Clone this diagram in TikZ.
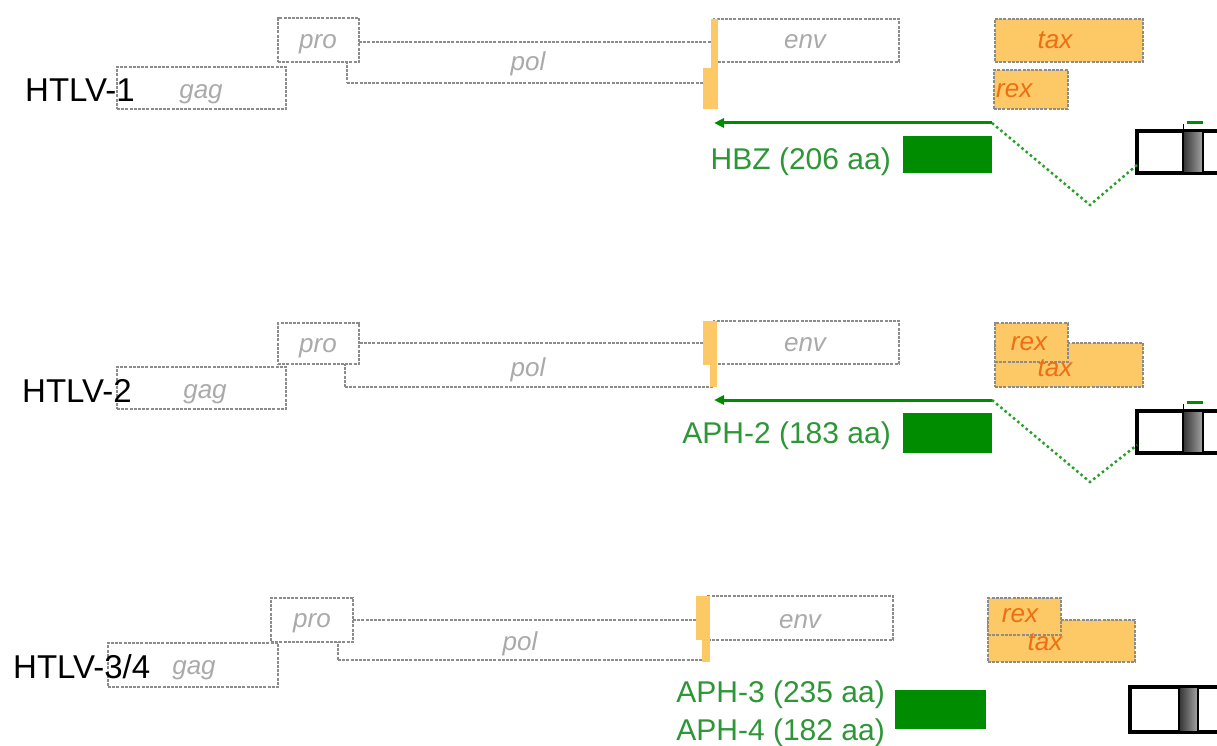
\documentclass[tikz,border=0pt]{standalone}
\usepackage{fontspec}
\setmainfont{Liberation Sans}
\usetikzlibrary{arrows.meta}
\definecolor{boxline}{RGB}{140,140,140}
\definecolor{lbl}{RGB}{170,170,170}
\definecolor{orfill}{RGB}{253,200,102}
\definecolor{ortext}{RGB}{238,110,20}
\definecolor{grn}{RGB}{0,140,0}
\definecolor{grntext}{RGB}{45,150,55}
\definecolor{spl}{RGB}{40,160,40}
\tikzset{
 gene/.style={draw=boxline, line width=1.3pt, dash pattern=on 3pt off 1.2pt, fill=white, inner sep=0, outer sep=0, anchor=north west},
 orbox/.style={gene, fill=orfill},
 orbar/.style={fill=orfill, draw=none, inner sep=0, outer sep=0, anchor=north west},
 glbl/.style={font=\fontsize{26}{26}\selectfont\itshape, text=lbl, text height=0.72em, text depth=0.21em, inner sep=0, yshift=-6pt},
 olbl/.style={glbl, text=ortext},
 virus/.style={font=\fontsize{33}{33}\selectfont, anchor=base west, inner sep=0, text=black},
 prot/.style={font=\fontsize{30}{30}\selectfont, anchor=base east, inner sep=0, text=grntext},
 grect/.style={fill=grn, draw=none, anchor=north west, inner sep=0, outer sep=0},
 hbzarrow/.style={draw=grn, line width=3pt, -{Triangle[length=10pt,width=9pt]}},
 splice/.style={draw=spl, line width=2.5pt, dash pattern=on 2.5pt off 3pt},
 exon/.style={draw=black, line width=4pt, fill=white, inner sep=0, outer sep=0, anchor=north west},
 exshade/.style={draw=black, line width=2.5pt, left color=black!80, right color=black!35, inner sep=0, outer sep=0, anchor=north west},
 gdash/.style={draw=grn, line width=3pt},
 tick/.style={draw=black, line width=1pt},
}
\begin{document}
\begin{tikzpicture}[x=1pt,y=-1pt]
\useasboundingbox (0,0) rectangle (1217,746);
\clip (0,0) rectangle (1217,746);
\fill[white] (0,0) rectangle (1217,746);

% ---------------- HTLV-1 ----------------
\node[gene, minimum width=169, minimum height=42] (gag1) at (117,67) {};
\node[gene, minimum width=365, minimum height=41] (pol1) at (347,42) {};
\node[gene, minimum width=81, minimum height=44] (pro1) at (278,18) {};
\node[gene, minimum width=185, minimum height=43] (env1) at (714,19) {};
\node[orbar, minimum width=7, minimum height=49] (ob1a) at (711,19) {};
\node[orbar, minimum width=15, minimum height=41] (ob1b) at (703,68) {};
\node[orbox, minimum width=148, minimum height=43] (tax1) at (995,19) {};
\node[orbox, minimum width=74, minimum height=39] (rex1) at (994,70) {};
\node[glbl] (gagl1) at (201,90) {gag};
\node[glbl] (prol1) at (318,40) {pro};
\node[glbl] (poll1) at (528,62) {pol};
\node[glbl] (envl1) at (805,40) {env};
\node[olbl] (taxl1) at (1055,40) {tax};
\node[olbl, anchor=west] (rexl1) at (996,89) {rex};
\node[virus] (v1lbl) at (25,102) {HTLV-1};
\coordinate (s1) at (992,123);
\coordinate (t1) at (714,123);
\draw[hbzarrow] (s1) -- (t1);
\node[prot] (hbz) at (891,170) {HBZ (206 aa)};
\node[grect, minimum width=89, minimum height=37] (g1) at (903,136) {};
\node[exon, minimum width=110, minimum height=42] (ex1) at (1137,131) {};
\node[exshade, minimum width=20, minimum height=42] (sh1) at (1183,131) {};
\coordinate (k1) at (1090,205);
\coordinate (e1) at (1137,165);
\draw[splice] (s1) -- (k1) -- (e1);
\draw[gdash] ([xshift=4pt,yshift=8pt]sh1.north west) -- ([xshift=20pt,yshift=8pt]sh1.north west);
\draw[tick] (sh1.north west) -- ++(0,-7);

% ---------------- HTLV-2 ----------------
\node[gene, minimum width=169, minimum height=42] (gag2) at (117,367) {};
\node[gene, minimum width=367, minimum height=44] (pol2) at (345,343) {};
\node[gene, minimum width=81, minimum height=41] (pro2) at (278,323) {};
\node[gene, minimum width=185, minimum height=43] (env2) at (714,321) {};
\node[orbar, minimum width=14, minimum height=44] (ob2a) at (703,321) {};
\node[orbar, minimum width=7, minimum height=22] (ob2b) at (710,365) {};
\node[orbox, minimum width=148, minimum height=44] (tax2) at (995,343) {};
\node[orbox, minimum width=73, minimum height=39] (rex2) at (995,323) {};
\node[glbl] (gagl2) at (205,390) {gag};
\node[glbl] (prol2) at (318,344) {pro};
\node[glbl] (poll2) at (528,368) {pol};
\node[glbl] (envl2) at (805,343) {env};
\node[olbl] (rexl2) at (1029,342) {rex};
\node[olbl] (taxl2) at (1055,368) {tax};
\node[virus] (v2lbl) at (22,402) {HTLV-2};
\coordinate (s2) at (992,400);
\coordinate (t2) at (714,400);
\draw[hbzarrow] (s2) -- (t2);
\node[prot] (aph2) at (891,443) {APH-2 (183 aa)};
\node[grect, minimum width=89, minimum height=40] (g2) at (903,413) {};
\node[exon, minimum width=110, minimum height=42] (ex2) at (1137,411) {};
\node[exshade, minimum width=20, minimum height=42] (sh2) at (1183,411) {};
\coordinate (k2) at (1090,482);
\coordinate (e2) at (1137,445);
\draw[splice] (s2) -- (k2) -- (e2);
\draw[gdash] ([xshift=4pt,yshift=9pt]sh2.north west) -- ([xshift=20pt,yshift=9pt]sh2.north west);
\draw[tick] (sh2.north west) -- ++(0,-7);

% ---------------- HTLV-3/4 ----------------
\node[gene, minimum width=170, minimum height=44] (gag3) at (108,643) {};
\node[gene, minimum width=367, minimum height=40] (pol3) at (338,620) {};
\node[gene, minimum width=82, minimum height=44] (pro3) at (271,598) {};
\node[gene, minimum width=185, minimum height=44] (env3) at (708,596) {};
\node[orbar, minimum width=14, minimum height=44] (ob3a) at (696,596) {};
\node[orbar, minimum width=8, minimum height=22] (ob3b) at (702,640) {};
\node[orbox, minimum width=147, minimum height=42] (tax3) at (988,620) {};
\node[orbox, minimum width=73, minimum height=37] (rex3) at (988,598) {};
\node[glbl] (gagl3) at (194,666) {gag};
\node[glbl] (prol3) at (312,619) {pro};
\node[glbl] (poll3) at (520,642) {pol};
\node[glbl] (envl3) at (800,620) {env};
\node[olbl] (rexl3) at (1020,614) {rex};
\node[olbl] (taxl3) at (1045,642) {tax};
\node[virus] (v3lbl) at (13,678) {HTLV-3/4};
\node[prot] (aph3) at (885,702) {APH-3 (235 aa)};
\node[prot] (aph4) at (885,740) {APH-4 (182 aa)};
\node[grect, minimum width=91, minimum height=39] (g3) at (895,690) {};
\node[exon, minimum width=110, minimum height=45] (ex3) at (1130,687) {};
\node[exshade, minimum width=19, minimum height=45] (sh3) at (1179,687) {};
\end{tikzpicture}
\end{document}
